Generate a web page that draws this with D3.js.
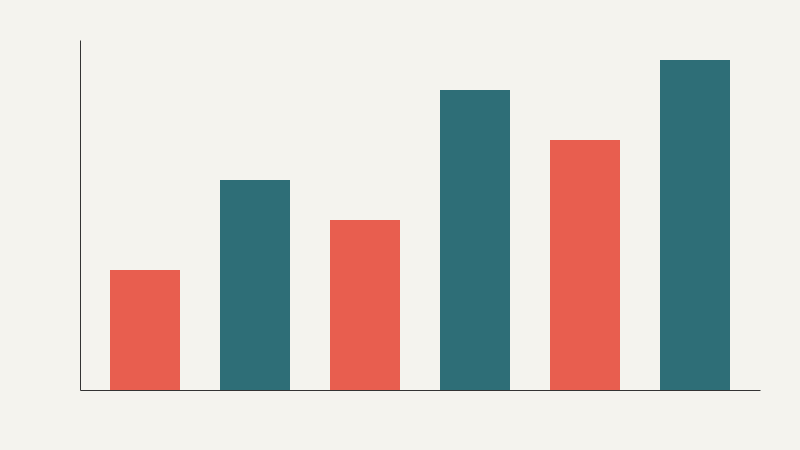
<!DOCTYPE html>
<html>
<head>
<meta charset="utf-8">
<script src="https://cdn.jsdelivr.net/npm/d3@7"></script>
<style>
  html, body { margin: 0; padding: 0; background: #f4f3ee; }
  svg { display: block; }
</style>
</head>
<body>
<script>
var width = 800,
    height = 450;

// data
var categories = ['A', 'B', 'C', 'D', 'E', 'F'];
var values = [12, 21, 17, 30, 25, 33];
var groups = ['red', 'teal', 'red', 'teal', 'red', 'teal'];

var palette = { red: '#e85e4f', teal: '#2e6e77' };

var svg = d3.select('body').append('svg')
    .attr('width', width)
    .attr('height', height);

svg.append('rect')
    .attr('width', width)
    .attr('height', height)
    .attr('fill', '#f4f3ee');

var x = d3.scaleBand()
    .domain(categories)
    .range([80, 760])
    .paddingInner(4 / 11)
    .paddingOuter(3 / 11);

var y = d3.scaleLinear()
    .domain([0, 35])
    .range([390, 40]);

svg.selectAll('rect.bar')
    .data(categories)
    .enter().append('rect')
    .attr('class', 'bar')
    .attr('x', function (d) { return x(d); })
    .attr('y', function (d, i) { return y(values[i]); })
    .attr('width', x.bandwidth())
    .attr('height', function (d, i) { return y(0) - y(values[i]); })
    .attr('fill', function (d, i) { return palette[groups[i]]; });

// axes, lines only
var gx = svg.append('g')
    .attr('transform', 'translate(0,390)')
    .call(d3.axisBottom(x).tickValues([]).tickSizeOuter(0));

var gy = svg.append('g')
    .attr('transform', 'translate(80,0)')
    .call(d3.axisLeft(y).tickValues([]).tickSizeOuter(0));

svg.selectAll('.domain')
    .attr('stroke', '#333333')
    .attr('stroke-width', 1);
</script>
</body>
</html>
